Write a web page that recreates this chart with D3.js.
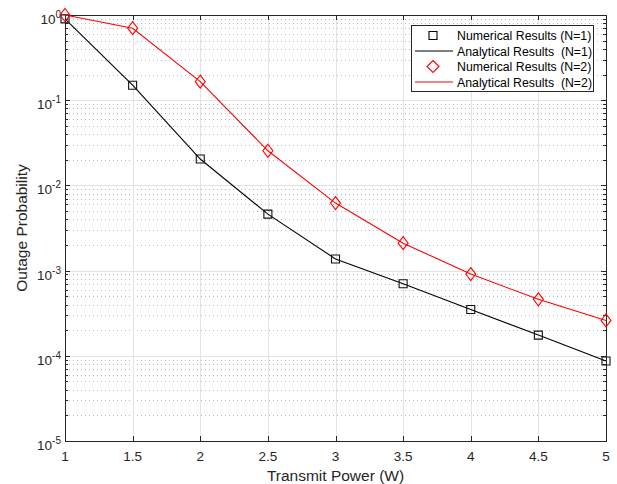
<!DOCTYPE html>
<html>
<head>
<meta charset="utf-8">
<script src="https://cdn.jsdelivr.net/npm/d3@7"></script>
<style>
  body { margin: 0; background: #fff; }
  svg { font-family: "Liberation Sans", Arial, sans-serif; }
  .leg-text { white-space: pre; }
</style>
</head>
<body>
<div id="chart"></div>
<script>
// data
const power = [1, 1.5, 2, 2.5, 3, 3.5, 4, 4.5, 5];
const outageN1 = [0.90, 0.15, 0.0204, 0.0046, 0.00137, 0.00070, 0.00035, 0.000175, 0.000087];
const outageN2 = [1.0, 0.70, 0.165, 0.0255, 0.0062, 0.0021, 0.00091, 0.00046, 0.00026];
const xTicks = [1, 1.5, 2, 2.5, 3, 3.5, 4, 4.5, 5];
const yExponents = [0, -1, -2, -3, -4, -5];
const legendLabels = ["Numerical Results (N=1)", "Analytical Results  (N=1)", "Numerical Results (N=2)", "Analytical Results  (N=2)"];

const W = 617, H = 484;
const margin = {top: 15, right: 11, bottom: 43, left: 65};
const width = W - margin.left - margin.right;
const height = H - margin.top - margin.bottom;
const axisColor = "#262626";

const svg = d3.select("#chart").append("svg")
    .attr("width", W)
    .attr("height", H);

const g = svg.append("g")
    .attr("transform", "translate(" + margin.left + "," + margin.top + ")");

const x = d3.scaleLinear().domain([1, 5]).range([0, width]);
const y = d3.scaleLog().domain([1e-5, 1]).range([height, 0]);

// minor values (2..9 x 10^k)
const minors = [];
for (let e = -5; e < 0; e++) {
    for (let m = 2; m <= 9; m++) minors.push(m * Math.pow(10, e));
}

// minor grid (dotted)
g.append("g").selectAll("line")
    .data(minors).join("line")
    .attr("x1", 0).attr("x2", width)
    .attr("y1", d => Math.round(y(d)) + 0.5).attr("y2", d => Math.round(y(d)) + 0.5)
    .attr("stroke", "#b8b8b8")
    .attr("stroke-width", 1)
    .attr("stroke-dasharray", "1,3");

// major grid
g.append("g").selectAll("line")
    .data(yExponents.slice(1, -1)).join("line")
    .attr("x1", 0).attr("x2", width)
    .attr("y1", d => Math.round(y(Math.pow(10, d))) + 0.5)
    .attr("y2", d => Math.round(y(Math.pow(10, d))) + 0.5)
    .attr("stroke", "#e3e3e3");

g.append("g").selectAll("line")
    .data(xTicks.slice(1, -1)).join("line")
    .attr("x1", d => Math.round(x(d)) + 0.5).attr("x2", d => Math.round(x(d)) + 0.5)
    .attr("y1", 0).attr("y2", height)
    .attr("stroke", "#e3e3e3");

// box
g.append("rect")
    .attr("x", 0.5).attr("y", 0.5)
    .attr("width", width).attr("height", height)
    .attr("fill", "none")
    .attr("stroke", axisColor)
    .attr("stroke-width", 1);

// ticks, inside, on all four sides
const tickG = g.append("g").attr("stroke", axisColor).attr("stroke-width", 1);
xTicks.forEach(function(t) {
    const px = Math.round(x(t)) + 0.5;
    tickG.append("line").attr("x1", px).attr("x2", px).attr("y1", height).attr("y2", height - 5);
    tickG.append("line").attr("x1", px).attr("x2", px).attr("y1", 0).attr("y2", 5);
});
yExponents.forEach(function(e) {
    const py = Math.round(y(Math.pow(10, e))) + 0.5;
    tickG.append("line").attr("x1", 0).attr("x2", 5).attr("y1", py).attr("y2", py);
    tickG.append("line").attr("x1", width).attr("x2", width - 5).attr("y1", py).attr("y2", py);
});
minors.forEach(function(v) {
    const py = Math.round(y(v)) + 0.5;
    tickG.append("line").attr("x1", 0).attr("x2", 3).attr("y1", py).attr("y2", py);
    tickG.append("line").attr("x1", width).attr("x2", width - 3).attr("y1", py).attr("y2", py);
});

// x tick labels
g.append("g").selectAll("text")
    .data(xTicks).join("text")
    .attr("x", d => x(d))
    .attr("y", height + 19.5)
    .attr("text-anchor", "middle")
    .attr("font-size", 13.5)
    .attr("fill", axisColor)
    .text(d => d);

// y tick labels with superscript
const yl = g.append("g").selectAll("text")
    .data(yExponents).join("text")
    .attr("x", -4)
    .attr("y", d => y(Math.pow(10, d)) + 9)
    .attr("text-anchor", "end")
    .attr("font-size", 13.5)
    .attr("fill", axisColor);
yl.append("tspan").text("10");
yl.append("tspan")
    .attr("dy", -6)
    .attr("font-size", 10)
    .text(d => d);

// axis titles
svg.append("text")
    .attr("x", margin.left + width / 2)
    .attr("y", 481)
    .attr("text-anchor", "middle")
    .attr("font-size", 15.5)
    .attr("fill", axisColor)
    .text("Transmit Power (W)");

svg.append("text")
    .attr("transform", "translate(27," + (margin.top + height / 2) + ") rotate(-90)")
    .attr("text-anchor", "middle")
    .attr("font-size", 15.5)
    .attr("fill", axisColor)
    .text("Outage Probability");

// lines
const line = d3.line()
    .x(d => x(d[0]))
    .y(d => y(d[1]));

const series = [
    {values: outageN1, color: "#000000", marker: "square"},
    {values: outageN2, color: "#ff0000", marker: "diamond"}
];

function markerPath(type, cx, cy) {
    if (type === "square") {
        return "M" + (cx - 4) + "," + (cy - 4) + "h8v8h-8Z";
    }
    return "M" + cx + "," + (cy - 6.5) + "L" + (cx + 5) + "," + cy + "L" + cx + "," + (cy + 6.5) + "L" + (cx - 5) + "," + cy + "Z";
}

series.forEach(function(s) {
    const pts = power.map((p, i) => [p, s.values[i]]);
    g.append("path")
        .datum(pts)
        .attr("fill", "none")
        .attr("stroke", s.color)
        .attr("stroke-width", 1.1)
        .attr("d", line);

    g.append("g").selectAll("path")
        .data(pts).join("path")
        .attr("d", d => markerPath(s.marker, x(d[0]), y(d[1])))
        .attr("fill", "none")
        .attr("stroke", s.color === "#000000" ? "#111" : s.color)
        .attr("stroke-width", 1.1);
});

// legend
const lg = svg.append("g").attr("transform", "translate(411,25)");
lg.append("rect")
    .attr("x", 0.5).attr("y", 0.5)
    .attr("width", 182).attr("height", 66)
    .attr("fill", "#fff")
    .attr("stroke", axisColor)
    .attr("stroke-width", 1);

legendLabels.forEach(function(lbl, i) {
    const ly = 10.5 + i * 15.5;
    const s = series[Math.floor(i / 2)];
    if (i % 2 === 0) {
        lg.append("path")
            .attr("d", s.marker === "square" ? markerPath("square", 22, ly)
                : "M22," + (ly - 6) + "L28," + ly + "L22," + (ly + 6) + "L16," + ly + "Z")
            .attr("fill", "none")
            .attr("stroke", s.color)
            .attr("stroke-width", 1.1);
    } else {
        lg.append("line")
            .attr("x1", 4).attr("x2", 42)
            .attr("y1", ly).attr("y2", ly)
            .attr("stroke", s.color)
            .attr("stroke-width", 1.1);
    }
    lg.append("text")
        .attr("class", "leg-text")
        .attr("x", 46)
        .attr("y", ly + 4.5)
        .attr("font-size", 12.3)
        .attr("fill", "#000")
        .text(lbl);
});
</script>
</body>
</html>
